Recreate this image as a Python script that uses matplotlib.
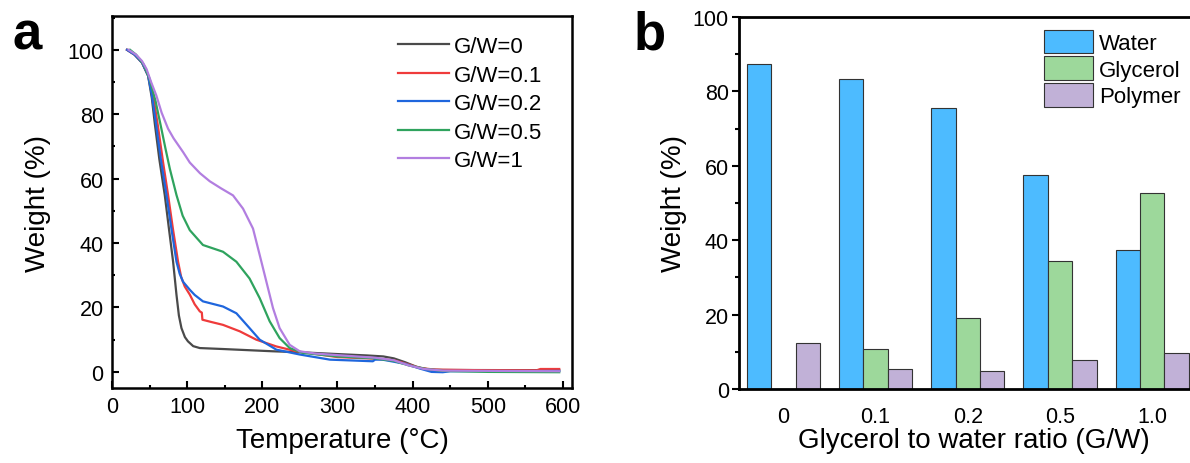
import numpy as np
import matplotlib
matplotlib.use("Agg")
import matplotlib.pyplot as plt
from matplotlib.ticker import MultipleLocator

plt.rcParams['font.family'] = ['Liberation Sans', 'DejaVu Sans']

# ---- panel a: TGA curves (temperature in C, weight in %) ----
t_gw0 = [20, 30, 40, 48, 53, 57, 63, 70.2, 76, 81.3, 85.8, 89, 92.4, 97, 101, 108, 116.8, 147.7, 214, 250, 294, 340, 361, 375, 390, 405, 420, 440, 595]
w_gw0 = [100, 98.5, 96, 92, 85, 77, 66, 54.9, 44, 34.2, 23.9, 17.5, 13.6, 10.8, 9.5, 8, 7.4, 7.1, 6.4, 6.1, 5.6, 5.1, 4.8, 4.2, 3, 1.6, 0.8, 0.6, 0.5]

t_gw01 = [20, 30, 40, 48, 55, 61.3, 68, 74.6, 81, 87.9, 92, 96.8, 103.5, 110, 116.8, 119.5, 120.3, 132, 147.7, 170, 192, 218.7, 245, 300, 350, 375, 395, 410, 430, 500, 565, 570, 595]
w_gw01 = [100, 98.5, 96, 92, 85.5, 76, 65, 54.9, 44.5, 34.2, 29.5, 26.5, 24, 21, 18.8, 18.4, 16.2, 15.5, 14.6, 12.6, 10, 7.9, 6.4, 4.6, 4.1, 3.6, 2.3, 1.2, 0.7, 0.5, 0.5, 0.9, 0.9]

t_gw02 = [20, 30, 40, 48, 53, 58.6, 65, 72.5, 79, 85.8, 90, 94.5, 103.5, 110, 121, 147.7, 165.5, 183, 196.5, 218.7, 249.7, 290, 347, 350, 360, 390, 410, 425, 440, 450, 595]
w_gw02 = [100, 98.5, 96, 92, 86, 77, 66, 54.9, 44.5, 34.2, 30.5, 28, 25.5, 23.9, 21.9, 20.3, 18.2, 13.6, 10, 6.9, 5.4, 3.8, 3.3, 3.8, 3.8, 2.5, 1, 0, -0.1, 0.2, 0.3]

t_gw05 = [24, 32, 42, 50, 58, 65.7, 71, 77, 85.8, 94, 103.5, 113, 121, 147.7, 165.5, 183, 196.5, 209.8, 223, 236.4, 254, 300, 350, 375, 395, 415, 440, 500, 595]
w_gw05 = [100, 98.5, 95.5, 91, 84, 75.5, 69.5, 63, 54.9, 48.5, 44, 41.5, 39.4, 37.3, 34.2, 29, 22.9, 15.7, 10.5, 7.4, 5.9, 4.8, 4.2, 3.4, 2, 1, 0.3, 0, -0.1]

t_gw1 = [22, 32, 40, 46, 52, 59, 66, 74.6, 82, 94.7, 103.5, 117, 130, 145, 161, 174.3, 187.6, 196.5, 205.4, 214.2, 223, 236.4, 249.7, 270, 300, 350, 375, 395, 415, 440, 595]
w_gw1 = [100, 98.5, 96.5, 94, 90, 85.8, 80.5, 75.5, 72.5, 68.2, 65, 61.7, 59.2, 57, 54.8, 50.7, 44.5, 36.3, 28, 19.8, 13.6, 8.4, 6.4, 5.7, 5.2, 4.4, 3.6, 2, 0.9, 0.4, 0.2]

tga_labels = ['G/W=0', 'G/W=0.1', 'G/W=0.2', 'G/W=0.5', 'G/W=1']
tga_colors = ['#4a4a4a', '#ef3b3b', '#1f66dd', '#2fa35e', '#b27ee0']

# ---- panel b: composition bars ----
ratios = ['0', '0.1', '0.2', '0.5', '1.0']
water = [87.4, 83.4, 75.5, 57.4, 37.3]
glycerol = [0, 10.8, 19.1, 34.3, 52.7]
polymer = [12.3, 5.4, 4.9, 7.7, 9.6]
bar_colors = ['#4dbbff', '#9dd89b', '#c1b1d7']

fig = plt.figure(figsize=(11.9, 4.64), dpi=100)

# panel a
ax1 = fig.add_axes([112 / 1190, 75 / 464, 460 / 1190, 372 / 464])
curves = [(t_gw0, w_gw0), (t_gw01, w_gw01), (t_gw02, w_gw02), (t_gw05, w_gw05), (t_gw1, w_gw1)]
for (t, w), lab, c in zip(curves, tga_labels, tga_colors):
    ax1.plot(t, w, color=c, lw=1.6, label=lab, solid_joinstyle='round')
ax1.set_xlim(0, 612)
ax1.set_ylim(-5, 110.5)
ax1.xaxis.set_major_locator(MultipleLocator(100))
ax1.xaxis.set_minor_locator(MultipleLocator(50))
ax1.yaxis.set_major_locator(MultipleLocator(20))
ax1.yaxis.set_minor_locator(MultipleLocator(10))
ax1.tick_params(which='both', direction='in', labelsize=15.5, width=1.5)
ax1.tick_params(which='major', length=5, pad=6)
ax1.tick_params(which='minor', length=2.5)
for s in ax1.spines.values():
    s.set_linewidth(1.8)
ax1.set_xlabel('Temperature (°C)', fontsize=20, labelpad=7)
ax1.set_ylabel('Weight (%)', fontsize=20, labelpad=12)
ax1.legend(loc='upper left', bbox_to_anchor=(398 / 1190, 1 - 37 / 464),
           bbox_transform=fig.transFigure, frameon=False, fontsize=16,
           handlelength=2.3, handletextpad=0.2, labelspacing=0.34,
           borderpad=0, borderaxespad=0)

# panel b
ax2 = fig.add_axes([738.5 / 1190, 74 / 464, 470 / 1190, 372 / 464])
x = np.arange(len(ratios))
bw = 0.265
ax2.bar(x - bw, water, bw, color=bar_colors[0], edgecolor='#333333', lw=0.8, label='Water')
ax2.bar(x, glycerol, bw, color=bar_colors[1], edgecolor='#333333', lw=0.8, label='Glycerol')
ax2.bar(x + bw, polymer, bw, color=bar_colors[2], edgecolor='#333333', lw=0.8, label='Polymer')
ax2.set_xlim(-0.486, 4.61)
ax2.set_ylim(0, 100)
ax2.set_xticks(x)
ax2.set_xticklabels(ratios)
ax2.yaxis.set_major_locator(MultipleLocator(20))
ax2.yaxis.set_minor_locator(MultipleLocator(10))
ax2.tick_params(axis='y', which='both', direction='out', labelsize=15.5, width=1.5)
ax2.tick_params(axis='y', which='major', length=5, pad=2)
ax2.tick_params(axis='y', which='minor', length=3)
ax2.tick_params(axis='x', length=0, labelsize=15.5, pad=12)
for s in ax2.spines.values():
    s.set_linewidth(2)
ax2.set_xlabel('Glycerol to water ratio (G/W)', fontsize=20, labelpad=0)
ax2.set_ylabel('Weight (%)', fontsize=20, labelpad=4)
ax2.legend(loc='upper left', bbox_to_anchor=(1044 / 1190, 1 - 30.5 / 464),
           bbox_transform=fig.transFigure, frameon=False, fontsize=16,
           handlelength=2.2, handleheight=1.28, handletextpad=0.27,
           labelspacing=0.1, borderpad=0, borderaxespad=0)

fig.text(12 / 1190, 1 - 50 / 464, 'a', fontsize=38, fontweight='bold', va='baseline')
fig.text(634 / 1190, 1 - 50 / 464, 'b', fontsize=38, fontweight='bold', va='baseline')

fig.savefig('out.png', dpi=100)
